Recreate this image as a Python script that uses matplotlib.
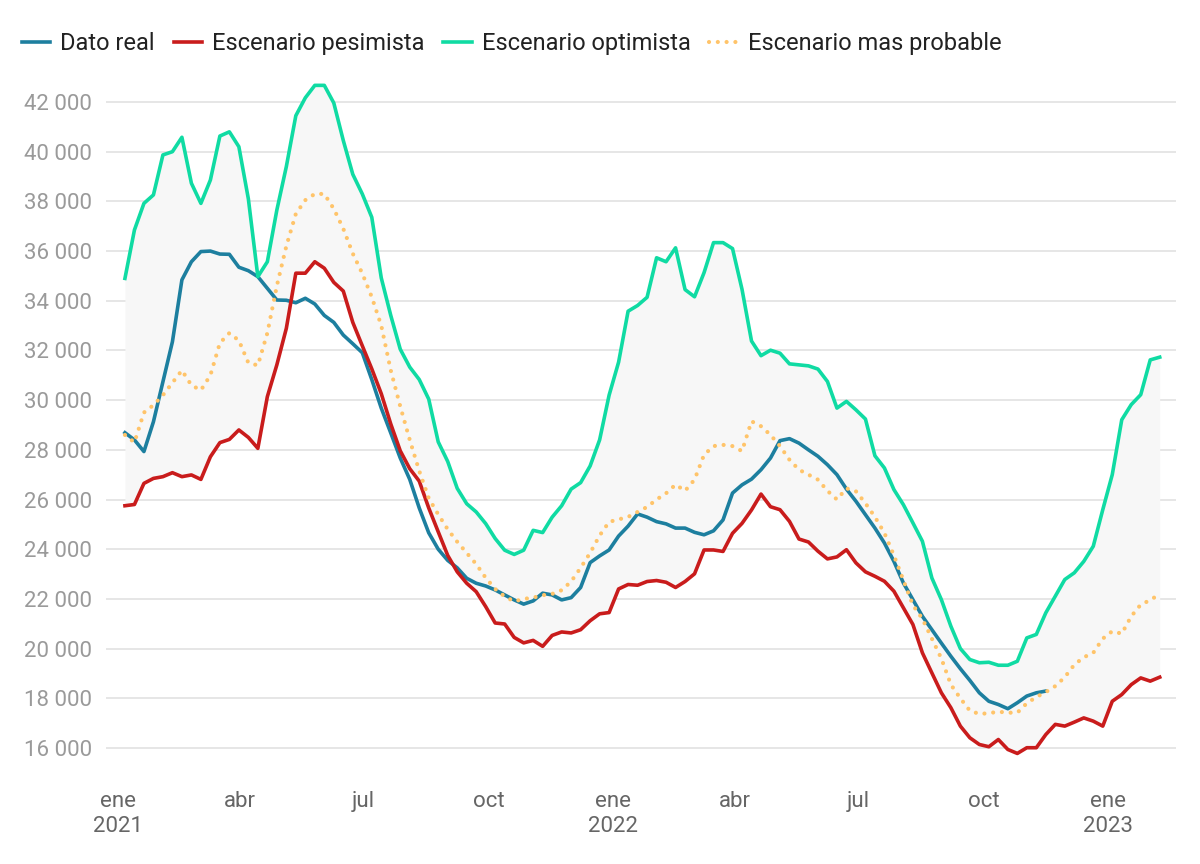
import numpy as np
import pandas as pd
import matplotlib
matplotlib.use("Agg")
import matplotlib.pyplot as plt
import matplotlib.dates as mdates

plt.rcParams['font.family'] = ['Roboto', 'DejaVu Sans']

# weekly series, first week 2021-01-06
start_date = "2021-01-06"
n_weeks = 110

dato_real = [
    28690, 28400, 27930, 29130, 30740, 32350, 34840, 35570, 35980, 36000,
    35880, 35870, 35350, 35210, 34970, 34500, 34030, 34020, 33920, 34100,
    33870, 33410, 33130, 32620, 32270, 31910, 30830, 29680, 28680, 27670,
    26810, 25660, 24660, 24000, 23550, 23250, 22830, 22630, 22520, 22360,
    22160, 21960, 21790, 21920, 22230, 22160, 21960, 22050, 22460, 23460,
    23730, 23970, 24530, 24930, 25420, 25290, 25110, 25020, 24850, 24850,
    24680, 24580, 24740, 25180, 26260, 26590, 26820, 27200, 27670, 28370,
    28450, 28270, 28000, 27740, 27400, 27000, 26420, 25930, 25390, 24850,
    24250, 23510, 22640, 21970, 21300, 20760, 20220, 19690, 19190, 18720,
    18220, 17880, 17750, 17580, 17820, 18090, 18220, 18290,
]

pesimista = [
    25750, 25800, 26650, 26850, 26920, 27080, 26920, 26990, 26810, 27720,
    28290, 28420, 28800, 28500, 28060, 30140, 31420, 32890, 35110, 35110,
    35570, 35310, 34740, 34390, 33130, 32190, 31260, 30260, 29040, 27960,
    27240, 26740, 25660, 24700, 23750, 23090, 22630, 22290, 21690, 21030,
    20990, 20450, 20230, 20330, 20090, 20530, 20670, 20630, 20760, 21120,
    21400, 21450, 22400, 22580, 22550, 22700, 22740, 22670, 22460, 22700,
    23010, 23970, 23970, 23910, 24640, 25040, 25580, 26220, 25710, 25590,
    25120, 24410, 24290, 23920, 23610, 23690, 23980, 23450, 23090, 22910,
    22710, 22310, 21640, 20970, 19830, 19020, 18220, 17620, 16880, 16410,
    16140, 16050, 16340, 15940, 15780, 16010, 16010, 16540, 16950, 16880,
    17040, 17210, 17080, 16880, 17880, 18150, 18550, 18820, 18690, 18850,
]

optimista = [
    34900, 36850, 37920, 38260, 39870, 40000, 40580, 38730, 37920, 38860,
    40630, 40800, 40200, 38100, 34970, 35570, 37650, 39400, 41450, 42170,
    42670, 42670, 41960, 40450, 39090, 38300, 37360, 34920, 33410, 32050,
    31330, 30830, 30040, 28320, 27530, 26450, 25830, 25500, 25030, 24430,
    23960, 23790, 23960, 24760, 24670, 25290, 25750, 26420, 26680, 27350,
    28400, 30200, 31530, 33580, 33810, 34140, 35730, 35570, 36130, 34450,
    34160, 35130, 36340, 36340, 36100, 34460, 32380, 31790, 32010, 31890,
    31460, 31420, 31380, 31250, 30750, 29680, 29950, 29610, 29240, 27760,
    27270, 26400, 25790, 25060, 24320, 22840, 21970, 20900, 20000, 19560,
    19430, 19450, 19330, 19330, 19490, 20430, 20570, 21440, 22110, 22780,
    23050, 23510, 24120, 25590, 27000, 29210, 29820, 30220, 31620, 31730,
]

mas_probable = [
    28600, 28300, 29500, 29800, 30200, 30700, 31200, 30600, 30400, 31000,
    32300, 32700, 32400, 31500, 31400, 32700, 34600, 36200, 37500, 38050,
    38300, 38300, 37700, 36900, 35900, 35100, 34150, 33000, 31200, 29750,
    28400, 27150, 26050, 25400, 24800, 24300, 23850, 23400, 22850, 22400,
    22100, 21900, 22000, 22050, 22150, 22200, 22350, 22700, 23250, 23850,
    24550, 25100, 25200, 25300, 25500, 25700, 26000, 26250, 26600, 26350,
    26800, 27800, 28150, 28200, 28150, 27950, 29150, 28950, 28600, 28150,
    27600, 27200, 27000, 26800, 26350, 26000, 26450, 26330, 25850, 25300,
    24650, 23750, 22750, 21750, 21200, 20400, 19600, 18550, 18000, 17500,
    17370, 17400, 17460, 17420, 17420, 17800, 18050, 18250, 18490, 18850,
    19350, 19650, 19830, 20400, 20700, 20600, 21300, 21770, 21950, 22200,
]

tick_dates = ["2021-01-01", "2021-04-01", "2021-07-01", "2021-10-01",
              "2022-01-01", "2022-04-01", "2022-07-01", "2022-10-01",
              "2023-01-01"]
tick_labels = ["ene\n2021", "abr", "jul", "oct",
               "ene\n2022", "abr", "jul", "oct", "ene\n2023"]
y_ticks = [16000, 18000, 20000, 22000, 24000, 26000, 28000,
           30000, 32000, 34000, 36000, 38000, 40000, 42000]

dates = pd.date_range(start_date, periods=n_weeks, freq="7D")

fig = plt.figure(figsize=(12, 8.64), dpi=100)
ax = fig.add_axes([0.0883, 0.1204, 0.8917, 0.7928])

# band between pessimistic and optimistic scenarios
ax.fill_between(dates, pesimista, optimista, color="#f7f7f7", lw=0, zorder=1)

ax.plot(dates[:len(dato_real)], dato_real, color="#1d7f9f", lw=2.6,
        label="Dato real", zorder=3, solid_joinstyle="round")
ax.plot(dates, pesimista, color="#c91c1c", lw=2.6,
        label="Escenario pesimista", zorder=3, solid_joinstyle="round")
ax.plot(dates, optimista, color="#10dba3", lw=2.6,
        label="Escenario optimista", zorder=3, solid_joinstyle="round")
ax.plot(dates, mas_probable, color="#ffc46a", lw=3.0, linestyle=(0, (0.01, 2.1)),
        dash_capstyle="round", label="Escenario mas probable", zorder=4)

ax.set_xlim(pd.Timestamp("2020-12-23"), pd.Timestamp("2023-02-20"))
ax.set_ylim(15517, 43087)

ax.set_yticks(y_ticks)
ax.set_yticklabels([f"{v:,}".replace(",", " ") for v in y_ticks])
ax.set_xticks([mdates.date2num(pd.Timestamp(d)) for d in tick_dates])
ax.set_xticklabels(tick_labels, linespacing=1.25)

ax.tick_params(axis="y", length=0, pad=10, labelsize=16, labelcolor="#9a9a9a")
ax.tick_params(axis="x", length=0, pad=22, labelsize=16, labelcolor="#666666")
ax.grid(axis="y", color="#e2e2e2", lw=1.2)
ax.set_axisbelow(True)
for s in ax.spines.values():
    s.set_visible(False)

leg = fig.legend(loc="upper left", bbox_to_anchor=(22 / 1200, 1 - 32 / 864),
                 ncol=4, frameon=False, fontsize=17.0, handlelength=1.2,
                 handletextpad=0.42, columnspacing=0.8,
                 borderpad=0, borderaxespad=0)
for t in leg.get_texts():
    t.set_color("#222222")

fig.savefig("out.png", dpi=100)
